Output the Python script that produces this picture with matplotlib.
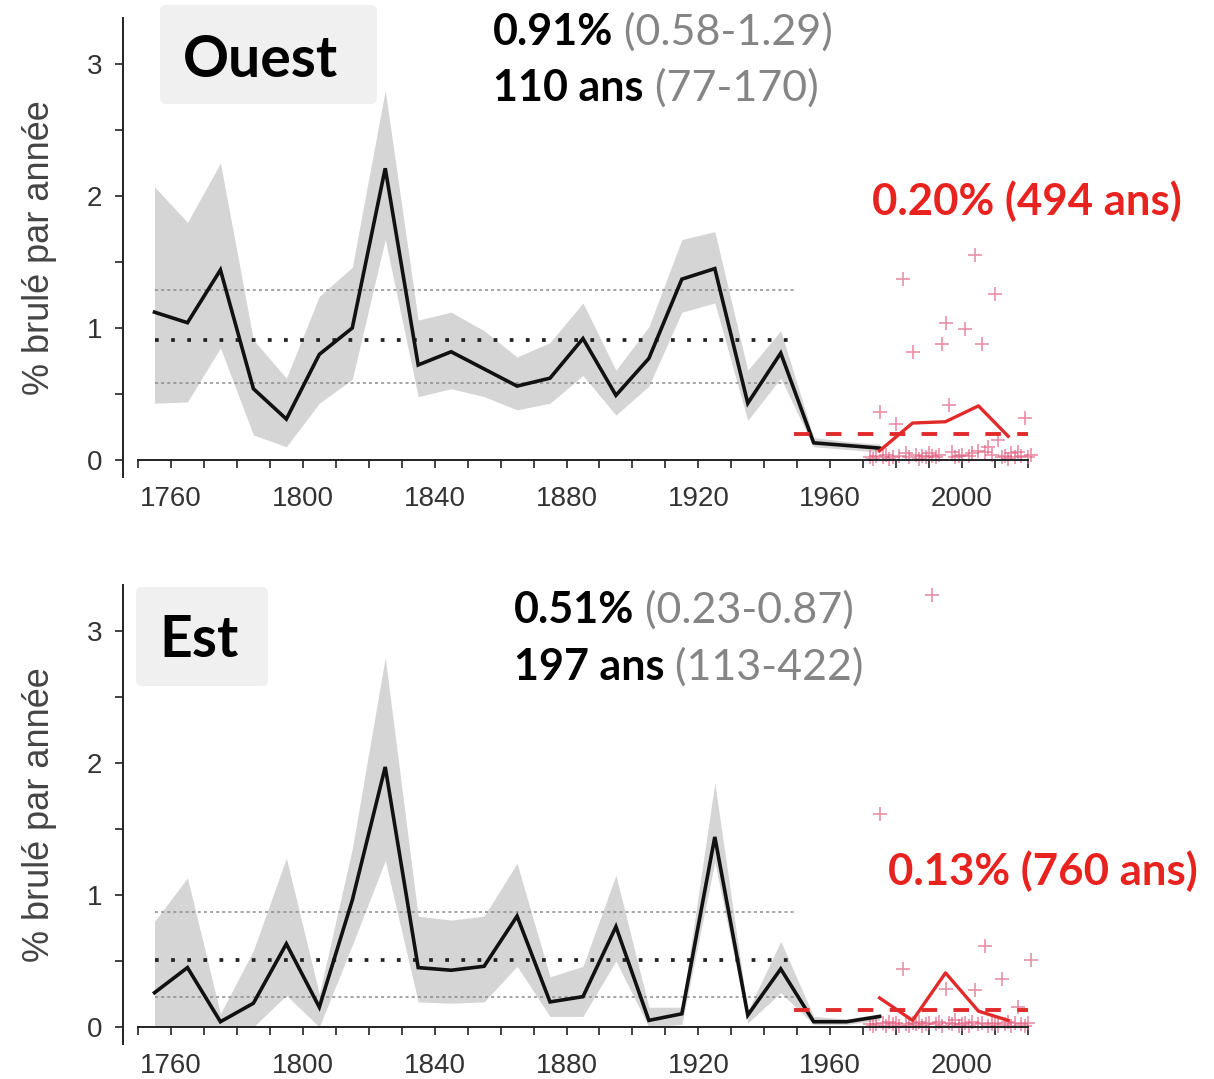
import matplotlib
matplotlib.use("Agg")
import matplotlib.pyplot as plt
from matplotlib.patches import FancyBboxPatch
from matplotlib.transforms import IdentityTransform

# ---------------- data ----------------
decades = [1755, 1765, 1775, 1785, 1795, 1805, 1815, 1825, 1835, 1845, 1855, 1865,
           1875, 1885, 1895, 1905, 1915, 1925, 1935, 1945, 1955, 1965, 1975]

ouest_mean = [1.12, 1.04, 1.44, 0.54, 0.31, 0.80, 1.00, 2.21, 0.72, 0.82, 0.69, 0.56,
              0.62, 0.92, 0.49, 0.77, 1.37, 1.45, 0.43, 0.81, 0.13, 0.11, 0.09]
ouest_low = [0.43, 0.44, 0.85, 0.19, 0.10, 0.43, 0.61, 1.67, 0.48, 0.54, 0.48, 0.38,
             0.43, 0.64, 0.34, 0.56, 1.12, 1.19, 0.30, 0.62, 0.10, 0.08, 0.06]
ouest_high = [2.07, 1.80, 2.25, 0.91, 0.62, 1.24, 1.46, 2.80, 1.06, 1.12, 0.98, 0.78,
              0.89, 1.19, 0.68, 1.01, 1.67, 1.73, 0.68, 0.98, 0.17, 0.14, 0.12]

est_mean = [0.26, 0.45, 0.04, 0.18, 0.63, 0.15, 0.96, 1.97, 0.45, 0.43, 0.46, 0.84,
            0.19, 0.23, 0.76, 0.05, 0.10, 1.44, 0.09, 0.44, 0.04, 0.04, 0.08]
est_low = [0.00, 0.00, 0.00, 0.00, 0.24, 0.00, 0.62, 1.26, 0.19, 0.18, 0.19, 0.46,
           0.08, 0.08, 0.50, 0.00, 0.02, 1.25, 0.03, 0.26, 0.02, 0.02, 0.05]
est_high = [0.80, 1.13, 0.10, 0.58, 1.28, 0.25, 1.35, 2.80, 0.84, 0.81, 0.84, 1.24,
            0.38, 0.46, 1.15, 0.15, 0.15, 1.85, 0.12, 0.65, 0.08, 0.06, 0.10]

# historical reference (mean, low, high) and recent mean
ouest_ref = [0.91, 0.58, 1.29]
est_ref = [0.51, 0.23, 0.87]
ouest_recent = 0.20
est_recent = 0.13
hist_period = [1755, 1949]
recent_period = [1949, 2020]

# recent decadal means
recent_decades = [1975, 1985, 1995, 2005, 2014]
ouest_recent_dec = [0.07, 0.28, 0.29, 0.41, 0.18]
est_recent_dec = [0.22, 0.05, 0.41, 0.12, 0.05]

# annual values 1972-2021
years = list(range(1972, 2022))
ouest_annual = [0.02, 0.01, 0.03, 0.36, 0.02, 0.04, 0.01, 0.02, 0.27, 0.03,
                1.37, 0.05, 0.02, 0.82, 0.04, 0.01, 0.03, 0.02, 0.05, 0.03,
                0.02, 0.04, 0.88, 1.04, 0.42, 0.06, 0.02, 0.03, 0.04, 0.99,
                0.03, 0.05, 1.55, 0.07, 0.88, 0.06, 0.10, 0.04, 1.26, 0.15,
                0.02, 0.03, 0.01, 0.05, 0.02, 0.06, 0.03, 0.32, 0.02, 0.04]
est_annual = [0.02, 0.01, 0.02, 1.61, 0.03, 0.01, 0.04, 0.02, 0.03, 0.01,
              0.44, 0.02, 0.01, 0.03, 0.02, 0.04, 0.01, 0.02, 0.03, 3.27,
              0.02, 0.04, 0.01, 0.29, 0.03, 0.02, 0.05, 0.01, 0.02, 0.03,
              0.01, 0.04, 0.28, 0.02, 0.03, 0.61, 0.01, 0.02, 0.03, 0.01,
              0.36, 0.02, 0.04, 0.01, 0.03, 0.15, 0.02, 0.01, 0.03, 0.51]

xticks_major = [1760, 1800, 1840, 1880, 1920, 1960, 2000]
xticks_minor = list(range(1750, 2021, 10))
yticks_major = [0, 1, 2, 3]
yticks_minor = [0.5, 1.5, 2.5]

ylabel = "% brulé par année"
panels = [
    dict(name="Ouest", mean=ouest_mean, low=ouest_low, high=ouest_high, ref=ouest_ref,
         recent=ouest_recent, rdec=ouest_recent_dec, annual=ouest_annual,
         line1=("0.91%", " (0.58-1.29)"), line2=("110 ans", " (77-170)"),
         red="0.20% (494 ans)"),
    dict(name="Est", mean=est_mean, low=est_low, high=est_high, ref=est_ref,
         recent=est_recent, rdec=est_recent_dec, annual=est_annual,
         line1=("0.51%", " (0.23-0.87)"), line2=("197 ans", " (113-422)"),
         red="0.13% (760 ans)"),
]

# ---------------- layout ----------------
W, H = 1214, 1079
DPI = 100
fig = plt.figure(figsize=(W / DPI, H / DPI), dpi=DPI)
fig.patch.set_facecolor("white")

PX_PER_YR = 791 / 240.0
X0_PX, X0_YR = 171, 1760
PX_PER_UNIT = 132.0
YMIN, YMAX = -0.13, 3.35
LEFT_PX, RIGHT_PX = 123, 1214


def yr_at(px):
    return X0_YR + (px - X0_PX) / PX_PER_YR


def make_axes(zero_px):
    top_px = zero_px - YMAX * PX_PER_UNIT
    bot_px = zero_px - YMIN * PX_PER_UNIT
    ax = fig.add_axes([LEFT_PX / W, 1 - bot_px / H, (RIGHT_PX - LEFT_PX) / W,
                       (bot_px - top_px) / H])
    ax.set_xlim(yr_at(LEFT_PX), yr_at(RIGHT_PX))
    ax.set_ylim(YMIN, YMAX)
    ax.patch.set_alpha(0)
    return ax


zero_pixels = [460, 1027]
layout = [
    dict(box=(160, 5, 217, 99), name_xy=(183, 77), t1=(493, 45), t2=(493, 101),
         red_xy=(872, 215), ylab=(40, 248)),
    dict(box=(136, 587, 132, 99), name_xy=(159, 657), t1=(514, 623), t2=(514, 680),
         red_xy=(888, 885), ylab=(40, 815)),
]

BLACK = "#111111"
RED = "#e22a2a"
RED_TXT = "#e8221f"
PINK = "#e06080"
GREY_TXT = "#858585"
TICK_C = "#333333"

renderer = fig.canvas.get_renderer()


def put(x, y, s, **kw):
    return fig.text(x, H - y, s, transform=IdentityTransform(), **kw)


for p, lay, zp in zip(panels, layout, zero_pixels):
    ax = make_axes(zp)
    ax.fill_between(decades, p["low"], p["high"], color="#d5d5d5", lw=0, zorder=1)
    m, lo, hi = p["ref"]
    ax.hlines([lo, hi], hist_period[0], hist_period[1], colors="#8c8c8c", lw=1.1,
              linestyles=[(0, (2, 2))], zorder=2)
    ax.hlines([m], hist_period[0], hist_period[1], colors="#222222", lw=2.7,
              linestyles=[(0, (1, 3.3))], zorder=2)
    ax.plot(years, p["annual"], ls="none", marker="+", ms=10, mew=1.2, color=PINK,
            alpha=0.7, zorder=2)
    ax.plot(decades, p["mean"], color=BLACK, lw=2.6, zorder=4, solid_joinstyle="miter")
    ax.plot(recent_decades, p["rdec"], color=RED, lw=2.4, zorder=5)
    ax.hlines([p["recent"]], recent_period[0], recent_period[1], colors=RED, lw=2.8,
              linestyles=[(0, (4.0, 4.2))], zorder=5)

    for side in ("top", "right"):
        ax.spines[side].set_visible(False)
    ax.spines["bottom"].set_position(("data", 0))
    ax.spines["bottom"].set_bounds(1750, 2020)
    ax.spines["left"].set_bounds(YMIN, YMAX)
    for side in ("bottom", "left"):
        ax.spines[side].set_linewidth(1.4)
        ax.spines[side].set_color("#222222")
    ax.set_xticks(xticks_major)
    ax.set_xticks(xticks_minor, minor=True)
    ax.set_yticks(yticks_major)
    ax.set_yticks(yticks_minor, minor=True)
    ax.tick_params(axis="both", which="both", direction="out", length=6, width=1.2,
                   color="#222222", labelcolor=TICK_C, labelsize=20)
    ax.tick_params(axis="x", which="major", pad=13)
    ax.tick_params(axis="y", which="major", pad=9)
    for lab in ax.get_xticklabels() + ax.get_yticklabels():
        lab.set_fontfamily("Liberation Sans")

    # y label
    put(lay["ylab"][0], lay["ylab"][1], ylabel, rotation=90, ha="center", va="center",
        fontsize=26, color="#444444", family="Liberation Sans")

    # name box
    bx, by, bw, bh = lay["box"]
    box = FancyBboxPatch((bx, H - by - bh), bw, bh,
                         boxstyle="round,pad=0,rounding_size=6",
                         transform=IdentityTransform(), facecolor="#f0f0f0",
                         edgecolor="none")
    fig.add_artist(box)
    put(lay["name_xy"][0], lay["name_xy"][1], p["name"], fontsize=41,
        fontweight="bold", family="Lato", color="black", va="baseline", ha="left")

    # stats text
    for key, (bold, grey) in (("t1", p["line1"]), ("t2", p["line2"])):
        x, y = lay[key]
        t = put(x, y, bold, fontsize=31, fontweight="bold", family="Lato",
                color="black", va="baseline", ha="left")
        bb = t.get_window_extent(renderer)
        put(bb.x1, y, grey, fontsize=31, family="Lato", color=GREY_TXT,
            va="baseline", ha="left")

    put(lay["red_xy"][0], lay["red_xy"][1], p["red"], fontsize=31.5, fontweight="bold",
        family="Lato", color=RED_TXT, va="baseline", ha="left")

fig.savefig("out.png", dpi=DPI)
